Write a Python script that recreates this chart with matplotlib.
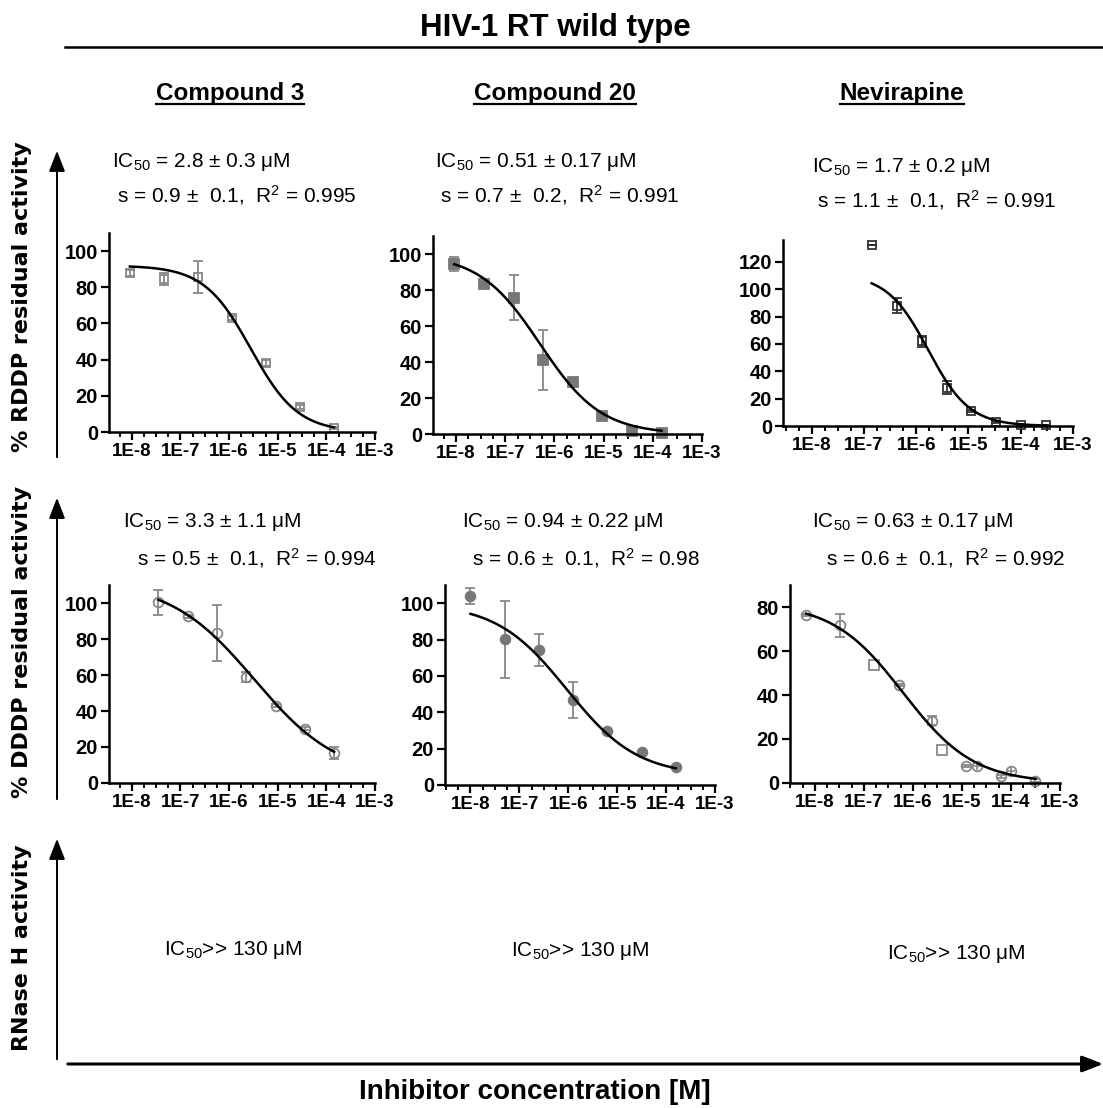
import numpy as np
import matplotlib
matplotlib.use('Agg')
import matplotlib.pyplot as plt
import matplotlib.patches as mpatches
from matplotlib.lines import Line2D
from matplotlib.ticker import FixedLocator, FuncFormatter, NullFormatter

plt.rcParams['font.family'] = 'Liberation Sans'
plt.rcParams['mathtext.fontset'] = 'custom'
plt.rcParams['mathtext.rm'] = 'Liberation Sans'
plt.rcParams['mathtext.it'] = 'Liberation Sans:italic'
plt.rcParams['mathtext.bf'] = 'Liberation Sans:bold'

W, H = 1103, 1108

### datos (concentracion [M], % actividad, error) ###
# RDDP - Compound 3
c3_rddp_conc = [9.1e-9, 4.6e-8, 2.3e-7, 1.14e-6, 5.7e-6, 2.85e-5, 1.44e-4]
c3_rddp_val = [88, 84.5, 85.8, 63.1, 38.2, 13.8, 2.4]
c3_rddp_err = [1.5, 3.5, 8.7, 1.0, 1.5, 1.0, 0.5]
c3_rddp_fit = [92, 0, 2.8e-6, 0.9]          # top, bottom, IC50, s

# RDDP - Compound 20
c20_rddp_conc = [9.2e-9, 3.7e-8, 1.47e-7, 5.9e-7, 2.36e-6, 9.4e-6, 3.78e-5, 1.51e-4]
c20_rddp_val = [94.5, 83.2, 75.8, 41.2, 28.7, 10.2, 1.7, 0.6]
c20_rddp_err = [4.0, 1.5, 12.6, 16.8, 1.5, 0.8, 0.5, 0.3]
c20_rddp_fit = [100, 0, 0.51e-6, 0.7]

# RDDP - Nevirapine
nvp_rddp_conc = [1.4e-7, 4.2e-7, 1.27e-6, 3.8e-6, 1.14e-5, 3.4e-5, 1.03e-4, 3.09e-4]
nvp_rddp_val = [132.7, 88, 61.8, 28.1, 11, 2.9, 1.0, 0.7]
nvp_rddp_err = [0, 5.5, 4.0, 4.5, 1.0, 1.0, 0.5, 0.3]
nvp_rddp_fit = [111, 0, 1.7e-6, 1.1]

# DDDP - Compound 3
c3_dddp_conc = [3.5e-8, 1.4e-7, 5.6e-7, 2.25e-6, 9e-6, 3.6e-5, 1.44e-4]
c3_dddp_val = [100.4, 92.6, 83.3, 58.7, 43, 30.2, 16.7]
c3_dddp_err = [6.8, 1.0, 15.7, 2.8, 1.0, 1.0, 3.2]
c3_dddp_fit = [112, 3, 3.3e-6, 0.5]

# DDDP - Compound 20
c20_dddp_conc = [1e-8, 5e-8, 2.5e-7, 1.26e-6, 6.3e-6, 3.2e-5, 1.58e-4]
c20_dddp_val = [104, 80.1, 74.2, 47, 29.8, 17.9, 10.1]
c20_dddp_err = [4.2, 21.3, 8.9, 9.9, 1.0, 0.8, 0.5]
c20_dddp_fit = [100, 5, 0.94e-6, 0.6]

# DDDP - Nevirapine (circulos, cuadrados y puntos superpuestos)
nvp_dddp_conc = [6.6e-9, 3.2e-8, 5.1e-7, 2.5e-6, 1.23e-5, 6.3e-5, 3.16e-4]
nvp_dddp_val = [76.4, 71.6, 44.6, 28.4, 7.6, 3.0, 1.1]
nvp_dddp_err = [0.5, 5.3, 0.5, 2.0, 0.5, 0.5, 0.5]
nvp_dddp_conc2 = [1.58e-7, 4e-6]
nvp_dddp_val2 = [53.6, 15.2]
nvp_dddp_conc3 = [2.04e-5, 1e-4]
nvp_dddp_val3 = [7.6, 5.6]
nvp_dddp_fit = [82, 0, 0.63e-6, 0.6]

col_titles = ['Compound 3', 'Compound 20', 'Nevirapine']
rddp_txt = [('2.8 ± 0.3', '0.9 ±  0.1', '0.995'),
            ('0.51 ± 0.17', '0.7 ±  0.2', '0.991'),
            ('1.7 ± 0.2', '1.1 ±  0.1', '0.991')]
dddp_txt = [('3.3 ± 1.1', '0.5 ±  0.1', '0.994'),
            ('0.94 ± 0.22', '0.6 ±  0.1', '0.98'),
            ('0.63 ± 0.17', '0.6 ±  0.1', '0.992')]
rnaseh_txt = '130'


def fx(x):
    return x / W


def fy(y):
    return 1 - y / H


def logistic(x, p):
    top, bot, ic50, s = p
    return bot + (top - bot) / (1 + (x / ic50) ** s)


def panel(l, r, t, b, xleft, ymax, ytop):
    ax = fig.add_axes([fx(l), fy(b), fx(r - l), (b - t) / H])
    ax.set_xscale('log')
    ax.set_xlim(10 ** xleft, 1e-3)
    ax.set_ylim(0, ymax)
    for s in ['top', 'right']:
        ax.spines[s].set_visible(False)
    for s in ['left', 'bottom']:
        ax.spines[s].set_linewidth(1.8)
    ax.xaxis.set_major_locator(FixedLocator([10.0 ** k for k in range(-8, -2)]))
    ax.xaxis.set_major_formatter(FuncFormatter(lambda v, pos: '1E%d' % round(np.log10(v))))
    mins = [10 ** (n + f) for n in range(-9, -3) for f in (0.25, 0.5, 0.75)]
    ax.xaxis.set_minor_locator(FixedLocator([m for m in mins if m > 10 ** xleft]))
    ax.xaxis.set_minor_formatter(NullFormatter())
    ax.set_yticks(np.arange(0, ytop + 1, 20))
    ax.tick_params(axis='both', which='major', length=6, width=1.6, pad=2)
    ax.tick_params(axis='x', which='major', labelsize=13.5)
    ax.tick_params(axis='y', which='major', labelsize=14.5)
    ax.tick_params(axis='x', which='minor', length=3.5, width=1.4)
    for lab in ax.get_xticklabels() + ax.get_yticklabels():
        lab.set_fontweight('bold')
    return ax


def draw(ax, conc, val, err, fit, marker, face, edge, ecol, ms):
    xx = np.logspace(np.log10(conc[0]), np.log10(conc[-1]), 200)
    ax.plot(xx, logistic(xx, fit), color='black', lw=1.8, zorder=3)
    ax.errorbar(conc, val, yerr=err, fmt=marker, mfc=face, mec=edge, ms=ms, mew=1.3,
                ecolor=ecol, elinewidth=1.3, capsize=3.5, capthick=1.3, clip_on=False, zorder=2)


fig = plt.figure(figsize=(W / 100, H / 100), dpi=100)

grey = '#888888'
dgrey = '#777777'

a1 = panel(109, 375, 233, 432, -8.47, 110, 100)
draw(a1, c3_rddp_conc, c3_rddp_val, c3_rddp_err, c3_rddp_fit, 's', 'none', grey, grey, 6)
a2 = panel(433, 702, 236, 434, -8.47, 110, 100)
draw(a2, c20_rddp_conc, c20_rddp_val, c20_rddp_err, c20_rddp_fit, 's', dgrey, dgrey, grey, 6.5)
a3 = panel(783, 1073, 240, 426, -8.55, 136, 120)
draw(a3, nvp_rddp_conc, nvp_rddp_val, nvp_rddp_err, nvp_rddp_fit, 's', 'none', '#333333', '#333333', 6)

a4 = panel(109, 375, 585, 783, -8.47, 110, 100)
draw(a4, c3_dddp_conc, c3_dddp_val, c3_dddp_err, c3_dddp_fit, 'o', 'none', grey, grey, 7)
a5 = panel(445, 715, 585, 785, -8.52, 110, 100)
draw(a5, c20_dddp_conc, c20_dddp_val, c20_dddp_err, c20_dddp_fit, 'o', dgrey, dgrey, grey, 7)
a6 = panel(790, 1060, 585, 783, -8.51, 90, 80)
draw(a6, nvp_dddp_conc, nvp_dddp_val, nvp_dddp_err, nvp_dddp_fit, 'o', 'none', grey, grey, 7)
a6.plot(nvp_dddp_conc2, nvp_dddp_val2, 's', mfc='none', mec=grey, ms=6.5, mew=1.3, clip_on=False)
a6.plot(nvp_dddp_conc3, nvp_dddp_val3, 'o', mfc='none', mec=grey, ms=7, mew=1.3, clip_on=False)
a6.plot(nvp_dddp_conc3, nvp_dddp_val3, '+', color=grey, ms=6, mew=1.2, clip_on=False)

# titulo y linea
fig.text(fx(555), fy(28), 'HIV-1 RT wild type', ha='center', va='center', fontsize=22.5, fontweight='bold')
fig.add_artist(Line2D([fx(65), 1], [fy(47), fy(47)], color='black', lw=1.8))

heads = []
for xc, name in zip([230, 555, 902], col_titles):
    heads.append(fig.text(fx(xc), fy(100), name, ha='center', va='baseline', fontsize=17.5, fontweight='bold'))

# textos de ajuste
rx = [(112, 117), (435, 440), (812, 817)]
for (xi, xs), (ic, s, r2), yb in zip(rx, rddp_txt, [167, 167, 172]):
    fig.text(fx(xi), fy(yb), r'IC$_{50}$ = ' + ic + ' μM', fontsize=15, va='baseline')
    fig.text(fx(xs), fy(yb + 35), 's = ' + s + r',  R$^2$ = ' + r2, fontsize=15, va='baseline')
rx2 = [(123, 137), (462, 472), (812, 826)]
for (xi, xs), (ic, s, r2) in zip(rx2, dddp_txt):
    fig.text(fx(xi), fy(527), r'IC$_{50}$ = ' + ic + ' μM', fontsize=15, va='baseline')
    fig.text(fx(xs), fy(565), 's = ' + s + r',  R$^2$ = ' + r2, fontsize=15, va='baseline')
for xi, yb in zip([164, 511, 887], [955, 956, 959]):
    fig.text(fx(xi), fy(yb), r'IC$_{50}$>> ' + rnaseh_txt + ' μM', fontsize=15, va='baseline')

# etiquetas de los ejes
fig.text(fx(22), fy(297), '% RDDP residual activity', rotation=90, ha='center', va='center',
         fontsize=16, fontweight='bold', family='DejaVu Sans')
fig.text(fx(22), fy(642), '% DDDP residual activity', rotation=90, ha='center', va='center',
         fontsize=16, fontweight='bold', family='DejaVu Sans')
fig.text(fx(22), fy(948), 'RNase H activity', rotation=90, ha='center', va='center',
         fontsize=16, fontweight='bold', family='DejaVu Sans')
fig.text(fx(535), fy(1092), 'Inhibitor concentration [M]', ha='center', va='center',
         fontsize=20, fontweight='bold')

# flechas
for y0, y1 in [(460, 148), (802, 495), (1062, 836)]:
    fig.add_artist(mpatches.FancyArrowPatch((fx(57), fy(y0)), (fx(57), fy(y1)), transform=fig.transFigure,
                                            arrowstyle='-|>,head_length=0.9,head_width=0.35',
                                            mutation_scale=14, lw=1.4, color='black'))
fig.add_artist(mpatches.FancyArrowPatch((fx(65), fy(1064)), (fx(1106), fy(1064)), transform=fig.transFigure,
                                        arrowstyle='-|>,head_length=0.9,head_width=0.35',
                                        mutation_scale=14, lw=2.2, color='black'))

# subrayado de los titulos de columna
fig.canvas.draw()
rend = fig.canvas.get_renderer()
for t in heads:
    bb = t.get_window_extent(rend)
    yl = (bb.y0 + 1) / H
    fig.add_artist(Line2D([bb.x0 / W, bb.x1 / W], [yl, yl], color='black', lw=1.6))

fig.savefig('out.png', dpi=100)
